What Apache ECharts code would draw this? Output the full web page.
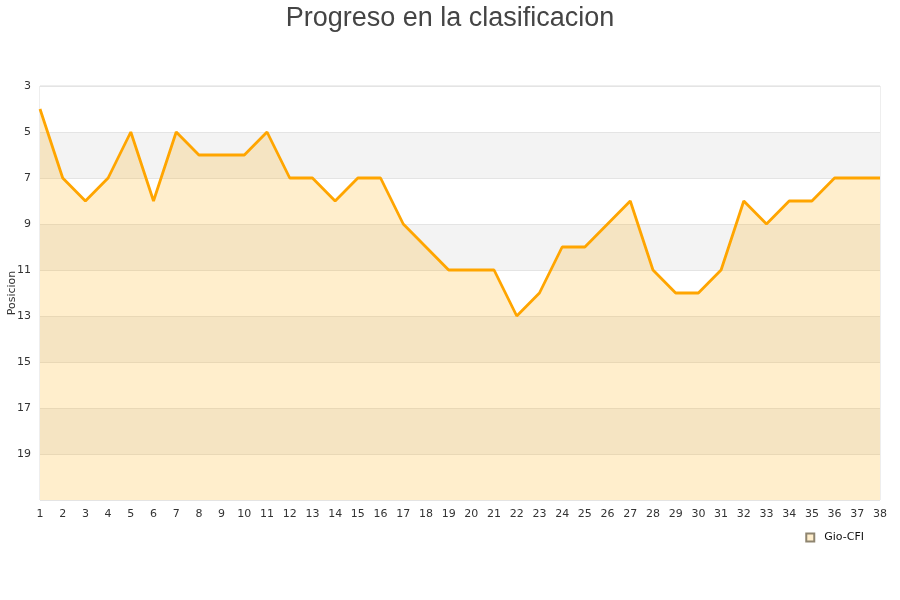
<!DOCTYPE html>
<html>
<head>
<meta charset="utf-8">
<script src="https://cdn.jsdelivr.net/npm/echarts@6/dist/echarts.min.js"></script>
<style>
    html, body { margin: 0; padding: 0; background: #fff; }
    #chart { width: 900px; height: 600px; }
</style>
</head>
<body>
<div id="chart"></div>
<script>
    // jornadas y posicion del equipo en cada una
    var jornadas = [];
    for (var j = 1; j <= 38; j++) { jornadas.push(String(j)); }
    var posiciones = [4, 7, 8, 7, 5, 8, 5, 6, 6, 6, 5, 7, 7, 8, 7, 7, 9, 10, 11, 11,
        11, 13, 12, 10, 10, 9, 8, 11, 12, 12, 11, 8, 9, 8, 8, 7, 7, 7];
    var equipo = 'Gio-CFI';

    var myChart = echarts.init(document.getElementById('chart'));
    var option = {
        animation: false,
        title: {
            text: 'Progreso en la clasificacion',
            left: 'center',
            top: 0,
            textStyle: {
                fontFamily: 'Liberation Sans',
                fontSize: 27,
                fontWeight: 'normal',
                color: '#444'
            }
        },
        legend: {
            data: [{ name: equipo, icon: 'rect' }],
            right: 31,
            top: 527,
            itemWidth: 8,
            itemHeight: 8,
            textStyle: { fontFamily: 'DejaVu Sans', fontSize: 11, color: '#111', padding: [0, 0, 0, 5] }
        },
        grid: {
            left: 40,
            right: 20,
            top: 86,
            bottom: 100,
            outerBoundsMode: 'none',
            containLabel: false,
            show: true,
            borderColor: '#ddd',
            borderWidth: 1
        },
        xAxis: {
            type: 'category',
            data: jornadas,
            boundaryGap: false,
            axisLine: { show: false },
            axisTick: { show: false },
            axisLabel: {
                interval: 0,
                margin: 9,
                fontFamily: 'DejaVu Sans',
                fontSize: 11,
                color: '#333'
            }
        },
        yAxis: {
            type: 'value',
            inverse: true,
            min: 3,
            max: 21,
            interval: 2,
            name: 'Posicion',
            nameLocation: 'middle',
            nameGap: 22,
            nameMoveOverlap: false,
            nameTextStyle: { fontFamily: 'DejaVu Sans', fontSize: 11, color: '#333' },
            axisLine: { show: false },
            axisTick: { show: false },
            axisLabel: {
                margin: 9,
                fontFamily: 'DejaVu Sans',
                fontSize: 11,
                color: '#333',
                formatter: function (v) { return v === 21 ? '' : v; }
            },
            splitLine: { lineStyle: { color: '#e4e4e4' } },
            splitArea: { show: true, areaStyle: { color: ['#ffffff', '#f3f3f3'] } }
        },
        series: [{
            name: equipo,
            type: 'line',
            data: posiciones,
            symbol: 'none',
            lineStyle: { color: '#ffa500', width: 2.8 },
            itemStyle: { color: '#ffeecc', borderColor: '#8f8570', borderWidth: 1 },
            areaStyle: { color: 'rgba(255,170,0,0.2)', opacity: 1, origin: 'end' }
        }]
    };
    myChart.setOption(option);
</script>
</body>
</html>
